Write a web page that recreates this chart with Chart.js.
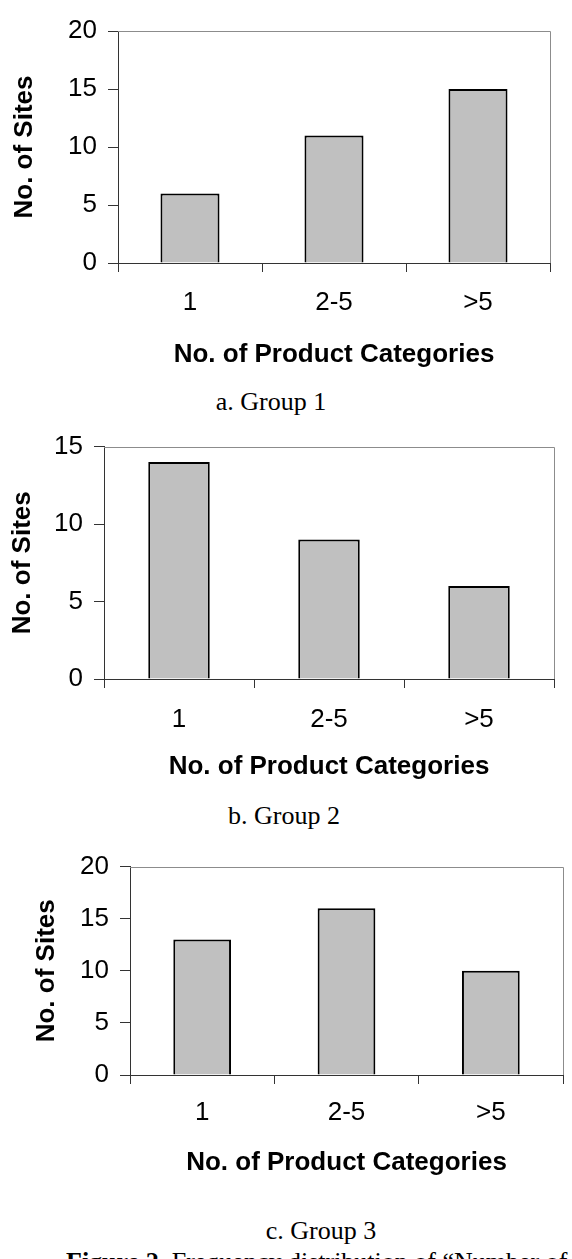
<!DOCTYPE html>
<html>
<head>
<meta charset="utf-8">
<script src="https://cdn.jsdelivr.net/npm/chart.js@4.4.0/dist/chart.umd.min.js"></script>
<style>
    body { margin: 0; background: #fff; width: 572px; height: 1259px; overflow: hidden; position: relative; }
    .box { position: absolute; left: 0; width: 572px; }
    .cap { position: absolute; font-family: 'Liberation Serif', 'Times New Roman', serif; font-size: 26px; line-height: 26px; color: #000; white-space: nowrap; }
    .mid { transform: translateX(-50%); }
</style>
</head>
<body>
<div class="box" style="top:0px;height:373px"><canvas id="chart1"></canvas></div>
<div class="cap mid" style="left:271px;top:389px">a. Group 1</div>
<div class="box" style="top:420px;height:369px"><canvas id="chart2"></canvas></div>
<div class="cap mid" style="left:284px;top:803px">b. Group 2</div>
<div class="box" style="top:840px;height:345px"><canvas id="chart3"></canvas></div>
<div class="cap mid" style="left:321px;top:1218px">c. Group 3</div>
<div class="cap" style="left:66px;top:1249px"><b>Figure 2.</b> Frequency distribution of “Number of Product Categories”</div>

<script>
// Dados
const categories = ['1', '2-5', '>5'];
const group1Sites = [6, 11, 15];
const group2Sites = [14, 9, 6];
const group3Sites = [13, 16, 10];
const group1YMax = 20;
const group2YMax = 15;
const group3YMax = 20;
const yStep = 5;

const xTitle = 'No. of Product Categories';
const yTitle = 'No. of Sites';
const barFill = '#c0c0c0';

Chart.defaults.font.family = "'Liberation Sans', Arial, sans-serif";

// moldura cinza no topo e à direita da área do gráfico
const frameLines = {
    id: 'frameLines',
    beforeDatasetsDraw(chart) {
        const { ctx, chartArea: a } = chart;
        ctx.save();
        ctx.strokeStyle = '#8c8c8c';
        ctx.lineWidth = 1;
        ctx.beginPath();
        ctx.moveTo(a.left, Math.round(a.top) + 0.5);
        ctx.lineTo(Math.round(a.right) + 0.5, Math.round(a.top) + 0.5);
        ctx.lineTo(Math.round(a.right) + 0.5, a.bottom);
        ctx.stroke();
        ctx.restore();
    }
};

function drawGroup(id, values, yMax, box) {
    const ctx = document.getElementById(id);
    return new Chart(ctx, {
        type: 'bar',
        data: {
            labels: categories,
            datasets: [{
                data: values,
                backgroundColor: barFill,
                borderColor: '#000',
                borderWidth: 2,
                barPercentage: box.bar,
                categoryPercentage: 1
            }]
        },
        options: {
            responsive: true,
            maintainAspectRatio: false,
            animation: false,
            layout: { padding: { top: box.top, right: box.right, left: 0, bottom: 0 } },
            plugins: {
                legend: { display: false },
                tooltip: { enabled: false }
            },
            scales: {
                x: {
                    grid: { drawOnChartArea: false, drawTicks: true, tickLength: 9, color: '#333', offset: true },
                    border: { display: true, color: '#333', width: 1 },
                    ticks: { color: '#000', font: { size: 26 }, padding: box.labelPad, maxRotation: 0 },
                    title: {
                        display: true,
                        text: xTitle,
                        color: '#000',
                        font: { size: 26, weight: 'bold' },
                        padding: { top: 0, bottom: box.titlePad }
                    },
                    afterFit(scale) { scale.height = 110; }
                },
                y: {
                    min: 0,
                    max: yMax,
                    ticks: { stepSize: yStep, color: '#000', font: { size: 26 }, padding: 11 },
                    grid: { drawOnChartArea: false, drawTicks: true, tickLength: 10, color: '#333' },
                    border: { display: true, color: '#333', width: 1 },
                    title: {
                        display: true,
                        text: yTitle,
                        color: '#000',
                        font: { size: 26, weight: 'bold' },
                        padding: { top: box.yTitlePad, bottom: 0 }
                    },
                    afterFit(scale) { scale.width = box.axis; }
                }
            }
        },
        plugins: [frameLines]
    });
}

drawGroup('chart1', group1Sites, group1YMax, { top: 31, right: 22, axis: 118, labelPad: 15, titlePad: 3, yTitlePad: 9, bar: 0.41 });
drawGroup('chart2', group2Sites, group2YMax, { top: 25, right: 18, axis: 104, labelPad: 16, titlePad: 7, yTitlePad: 7, bar: 0.41 });
drawGroup('chart3', group3Sites, group3YMax, { top: 20, right: 9, axis: 130, labelPad: 13, titlePad: 7, yTitlePad: 31, bar: 0.40 });
</script>
</body>
</html>
